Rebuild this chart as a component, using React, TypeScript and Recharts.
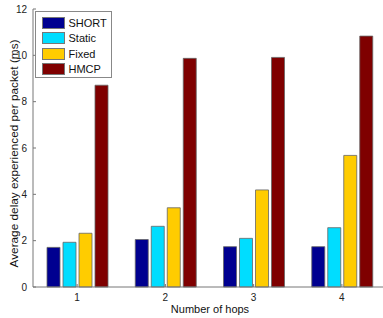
import { Bar, BarChart, XAxis, YAxis } from "recharts";

const hops = ["1", "2", "3", "4"];
const shortDelay = [1.71, 2.05, 1.74, 1.74];
const staticDelay = [1.93, 2.62, 2.1, 2.56];
const fixedDelay = [2.32, 3.42, 4.19, 5.68];
const hmcpDelay = [8.71, 9.87, 9.91, 10.83];
const yTicks = [0, 2, 4, 6, 8, 10, 12];

const SERIES = [
  { key: "SHORT", color: "#000090", values: shortDelay },
  { key: "Static", color: "#00DDFF", values: staticDelay },
  { key: "Fixed", color: "#FFCC00", values: fixedDelay },
  { key: "HMCP", color: "#7F0000", values: hmcpDelay },
];

const data = hops.map((h, i) => {
  const row: Record<string, string | number> = { hop: h };
  SERIES.forEach((s) => (row[s.key] = s.values[i]));
  return row;
});

const FONT = "'Liberation Sans', Arial, sans-serif";
const PLOT_LEFT = 33;
const PLOT_RIGHT = 386;
const PLOT_TOP = 9;
const PLOT_BOTTOM = 287;

function LeftTick({ y, payload }: any) {
  return (
    <g>
      <line x1={PLOT_LEFT} x2={PLOT_LEFT + 3} y1={y} y2={y} stroke="#777" />
      <text x={27} y={y} dy={3.5} textAnchor="end" fontSize={10} fontFamily={FONT} fill="#222">
        {payload.value}
      </text>
    </g>
  );
}

function RightTick({ y }: any) {
  return <line x1={PLOT_RIGHT} x2={PLOT_RIGHT - 4} y1={y} y2={y} stroke="#999" />;
}

function BottomTick({ x, payload }: any) {
  return (
    <g>
      <line x1={x} x2={x} y1={PLOT_BOTTOM} y2={PLOT_BOTTOM - 3} stroke="#777" />
      <text x={x} y={300.5} textAnchor="middle" fontSize={10} fontFamily={FONT} fill="#222">
        {payload.value}
      </text>
    </g>
  );
}

function TopTick({ x }: any) {
  return <line x1={x} x2={x} y1={PLOT_TOP} y2={PLOT_TOP + 3} stroke="#999" />;
}

function XLabel() {
  return (
    <text x={210} y={313} textAnchor="middle" fontSize={11} fontFamily={FONT} fill="#111">
      Number of hops
    </text>
  );
}

function YLabel() {
  return (
    <text
      x={18}
      y={153.5}
      transform="rotate(-90 18 153.5)"
      textAnchor="middle"
      fontSize={11.8}
      fontFamily={FONT}
      fill="#111"
    >
      Average delay experienced per packet (ms)
    </text>
  );
}

function LegendBox() {
  return (
    <div
      style={{
        position: "absolute",
        left: 35,
        top: 11,
        width: 77,
        height: 67,
        border: "1px solid #888",
        background: "#fff",
        boxSizing: "border-box",
      }}
    >
      {SERIES.map((s, i) => (
        <div key={s.key}>
          <span
            style={{
              position: "absolute",
              left: 6,
              top: 4.5 + i * 15.6,
              width: 23,
              height: 12,
              background: s.color,
              border: "1px solid #777",
              boxSizing: "border-box",
            }}
          />
          <span
            style={{
              position: "absolute",
              left: 32.5,
              top: 3.5 + i * 15.6,
              lineHeight: "14px",
              fontFamily: FONT,
              fontSize: 11,
              color: "#111",
            }}
          >
            {s.key}
          </span>
        </div>
      ))}
    </div>
  );
}

export default function App() {
  return (
    <div
      style={{
        position: "fixed",
        left: 0,
        top: 0,
        width: 383,
        height: 318,
        overflow: "hidden",
        background: "#fff",
      }}
    >
      <BarChart
        width={400}
        height={318}
        data={data}
        margin={{ top: PLOT_TOP, right: 0, left: 0, bottom: 0 }}
        barSize={13}
        barGap={3}
      >
        <XAxis
          dataKey="hop"
          height={31}
          axisLine={{ stroke: "#777" }}
          tickLine={false}
          tick={<BottomTick />}
          label={<XLabel />}
        />
        <XAxis
          xAxisId="top"
          dataKey="hop"
          orientation="top"
          height={0}
          axisLine={{ stroke: "#aaa" }}
          tickLine={false}
          tick={<TopTick />}
        />
        <YAxis
          width={PLOT_LEFT}
          domain={[0, 12]}
          ticks={yTicks}
          interval={0}
          axisLine={{ stroke: "#777" }}
          tickLine={false}
          tick={<LeftTick />}
          label={<YLabel />}
        />
        <YAxis
          yAxisId="right"
          orientation="right"
          width={400 - PLOT_RIGHT}
          domain={[0, 12]}
          ticks={yTicks}
          axisLine={{ stroke: "#aaa" }}
          tickLine={false}
          tick={<RightTick />}
        />
        {SERIES.map((s) => (
          <Bar key={s.key} dataKey={s.key} fill={s.color} stroke="#666" strokeWidth={0.8} isAnimationActive={false} />
        ))}
      </BarChart>
      <LegendBox />
    </div>
  );
}
